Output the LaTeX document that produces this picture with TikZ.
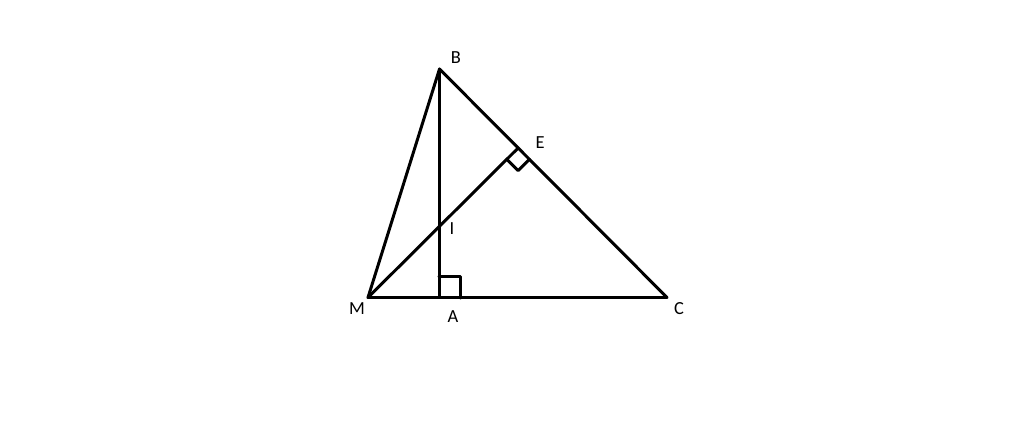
\documentclass[tikz,border=0pt]{standalone}
\usepackage{fontspec}
\setmainfont{Carlito}
\usetikzlibrary{calc}
\tikzset{
  side/.style={line width=1.7pt, line cap=round, line join=round},
  lbl/.style={font=\fontsize{10.5}{12}\selectfont, inner sep=0pt}
}
\begin{document}
\begin{tikzpicture}[x=0.02cm, y=-0.02cm]
            \useasboundingbox (0,0) rectangle (1024,426);
            % Points
            \coordinate (B) at (439.5,69);
            \coordinate (M) at (368,297.5);
            \coordinate (A) at (439.5,297.5);
            \coordinate (C) at (667,297.5);
            \coordinate (E) at ($(B)!(M)!(C)$);
            \coordinate (I) at (intersection of M--E and B--A);

            % Sides
            \draw[side] (M) -- (B) -- (C) -- cycle;
            \draw[side] (B) -- (A);
            \draw[side] (M) -- (E);

            % Right angles
            \coordinate (a1) at ($(A)!0.42cm!(C)$);
            \coordinate (a2) at ($(A)!0.42cm!(B)$);
            \draw[side, line width=2.2pt] (a1) -- ($(a1)+(a2)-(A)$) -- (a2);
            \coordinate (e1) at ($(E)!0.32cm!(C)$);
            \coordinate (e2) at ($(E)!0.32cm!(M)$);
            \draw[side] (e1) -- ($(e1)+(e2)-(E)$) -- (e2);

            % Labels
            \node[lbl] (lB) at (456,58) {B};
            \node[lbl] (lE) at (540,143) {E};
            \node[lbl] (lI) at (452,229) {I};
            \node[lbl] (lM) at (357,309) {M};
            \node[lbl] (lA) at (453,317) {A};
            \node[lbl] (lC) at (679,309) {C};
        \end{tikzpicture}
\end{document}
